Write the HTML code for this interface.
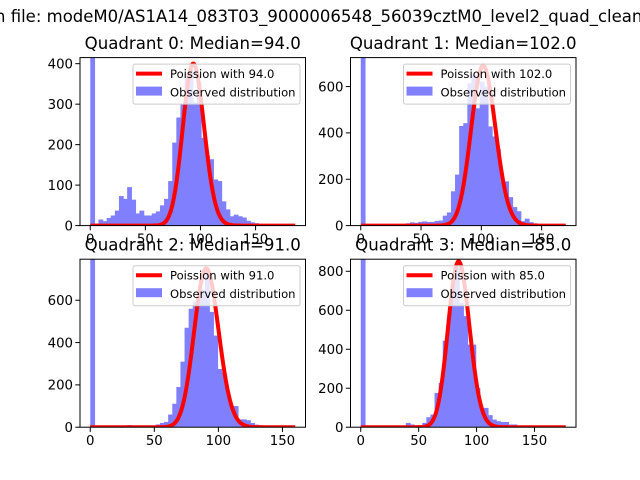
<!DOCTYPE html>
<html><head><meta charset="utf-8"><style>
html,body{margin:0;padding:0;background:#fff;}
svg{display:block;font-family:"DejaVu Sans","Liberation Sans",sans-serif;}
</style></head><body>
<svg id="fig" width="640" height="480" viewBox="0 0 640 480" xmlns="http://www.w3.org/2000/svg">
<rect width="640" height="480" fill="#fff"/>
<text x="-5" y="22" font-size="16.5" fill="#000">n file: modeM0/AS1A14_083T03_9000006548_56039cztM0_level2_quad_clean.evt</text>
</svg>
<script>
const medians = [94, 102, 91, 85];
const xMaxes = [186, 170, 160, 177];
const yLimits = [415, 725, 794, 862];
const poissonPeaks = [400, 690, 750, 850];
const yTicks0 = [0,100,200,300,400];
const yTicks1 = [0,200,400,600];
const yTicks2 = [0,200,400,600];
const yTicks3 = [0,200,400,600,800];
const xTicks = [0,50,100,150];
const counts0 = [1500,5,15,11,19,25,37,73,66,95,64,30,37,25,25,30,35,50,66,110,205,267,300,375,387,304,354,217,173,164,114,110,60,40,23,27,23,20,12,8,6,4,3,2,2,1,1,1,0,0];
const counts1 = [3000,0,0,0,0,1,1,1,2,2,5,10,14,12,16,18,16,16,20,22,43,57,148,220,430,442,614,650,506,621,600,428,385,330,191,191,123,80,62,19,30,15,10,5,3,2,1,1,0,0];
const counts2 = [3000,0,0,0,0,0,0,0,0,10,2,2,2,3,3,5,13,20,25,60,111,190,310,470,560,592,608,650,755,545,433,275,258,163,100,100,37,37,33,20,12,8,5,3,2,1,1,0,0,0];
const counts3 = [3000,0,0,0,1,2,2,2,3,3,5,22,14,8,5,22,51,65,176,227,444,560,740,820,638,570,424,424,202,99,99,62,39,31,27,27,14,14,8,5,3,2,1,1,0,0,0,0,0,0];
const titles = ["Quadrant 0: Median=94.0","Quadrant 1: Median=102.0","Quadrant 2: Median=91.0","Quadrant 3: Median=85.0"];
const allCounts = [counts0, counts1, counts2, counts3];
const allYTicks = [yTicks0, yTicks1, yTicks2, yTicks3];

const NS = "http://www.w3.org/2000/svg";
const svg = document.getElementById('fig');
function mk(tag, attrs, parent){
  const e = document.createElementNS(NS, tag);
  for (const k in attrs) e.setAttribute(k, attrs[k]);
  (parent||svg).appendChild(e);
  return e;
}
function lgamma(n){ let s=0; for(let i=2;i<=n;i++) s+=Math.log(i); return s; }

const boxes = [[80,57.6],[350.5,57.6],[80,259.2],[350.5,259.2]];
const W = 225.5, H = 168;
const defs = mk('defs',{});
for (let p=0;p<4;p++){
  const [L,T] = boxes[p];
  const xmax = xMaxes[p];
  const xmin = -0.05*xmax, xhi = xmax*1.05;
  const sx = v => L + (v - xmin)/(xhi - xmin)*W;
  const sy = v => T + H - v/yLimits[p]*H;
  const g = mk('g',{});
  
  
  const cp = mk('clipPath',{id:'clip'+p}, defs);
  mk('rect',{x:L,y:T,width:W,height:H}, cp);
  const plot = mk('g',{'clip-path':'url(#clip'+p+')'}, g);
  const counts = allCounts[p];
  const bw = xmax/counts.length;
  counts.forEach((c,i)=>{
    const x0 = sx(i*bw), x1 = sx((i+1)*bw);
    const r = mk('rect',{x:x0,y:sy(c),width:x1-x0+0.7,height:sy(0)-sy(c),fill:'#8080ff'}, plot);
    
    
  });
  const lam = medians[p];
  const logPmf = k => k*Math.log(lam) - lam - lgamma(k);
  const peakK = Math.floor(lam);
  let d = '';
  for (let k=0;k<=Math.round(xmax);k++){
    const v = poissonPeaks[p]*Math.exp(logPmf(k)-logPmf(peakK));
    d += (k?'L':'M') + sx(k).toFixed(2) + ',' + sy(v).toFixed(2);
  }
  const line = mk('path',{d:d,fill:'none',stroke:'#ff0000','stroke-width':4,'stroke-linejoin':'round'}, plot);
  
  
  mk('rect',{x:L,y:T,width:W,height:H,fill:'none',stroke:'#000','stroke-width':1}, g);
  xTicks.forEach(t=>{
    if (t > xhi) return;
    const x = sx(t);
    mk('line',{x1:x,x2:x,y1:T+H,y2:T+H+4.7,stroke:'#000','stroke-width':1}, g);
    const tl = mk('text',{x:x,y:T+H+18,'font-size':13.3,'text-anchor':'middle'}, g);
    
    
    tl.textContent = t;
  });
  allYTicks[p].forEach(t=>{
    const y = sy(t);
    mk('line',{x1:L-4.7,x2:L,y1:y,y2:y,stroke:'#000','stroke-width':1}, g);
    const tl = mk('text',{x:L-7,y:y+4.8,'font-size':13.3,'text-anchor':'end'}, g);
    
    
    tl.textContent = t;
  });
  const tt = mk('text',{x:L+W/2,y:T-8.5,'font-size':16.6,'text-anchor':'middle'}, g);
  
  
  tt.textContent = titles[p];
  const lg = mk('g',{}, g);
  
  
  const lx = L+W-5.5-167, ly = T+6.5;
  mk('rect',{x:lx,y:ly,width:167,height:40,rx:2,fill:'#fff','fill-opacity':0.8,stroke:'#ccc','stroke-width':1}, lg);
  mk('line',{x1:lx+3,x2:lx+29,y1:ly+9.5,y2:ly+9.5,stroke:'#ff0000','stroke-width':4}, lg);
  const t1 = mk('text',{x:lx+37,y:ly+14,'font-size':11.6}, lg);
  
  
  t1.textContent = 'Poission with ' + medians[p].toFixed(1);
  mk('rect',{x:lx+3,y:ly+22.5,width:26,height:9,fill:'#8080ff'}, lg);
  const t2 = mk('text',{x:lx+37,y:ly+32.5,'font-size':11.6}, lg);
  
  
  t2.textContent = 'Observed distribution';
}
</script>
</body></html>
